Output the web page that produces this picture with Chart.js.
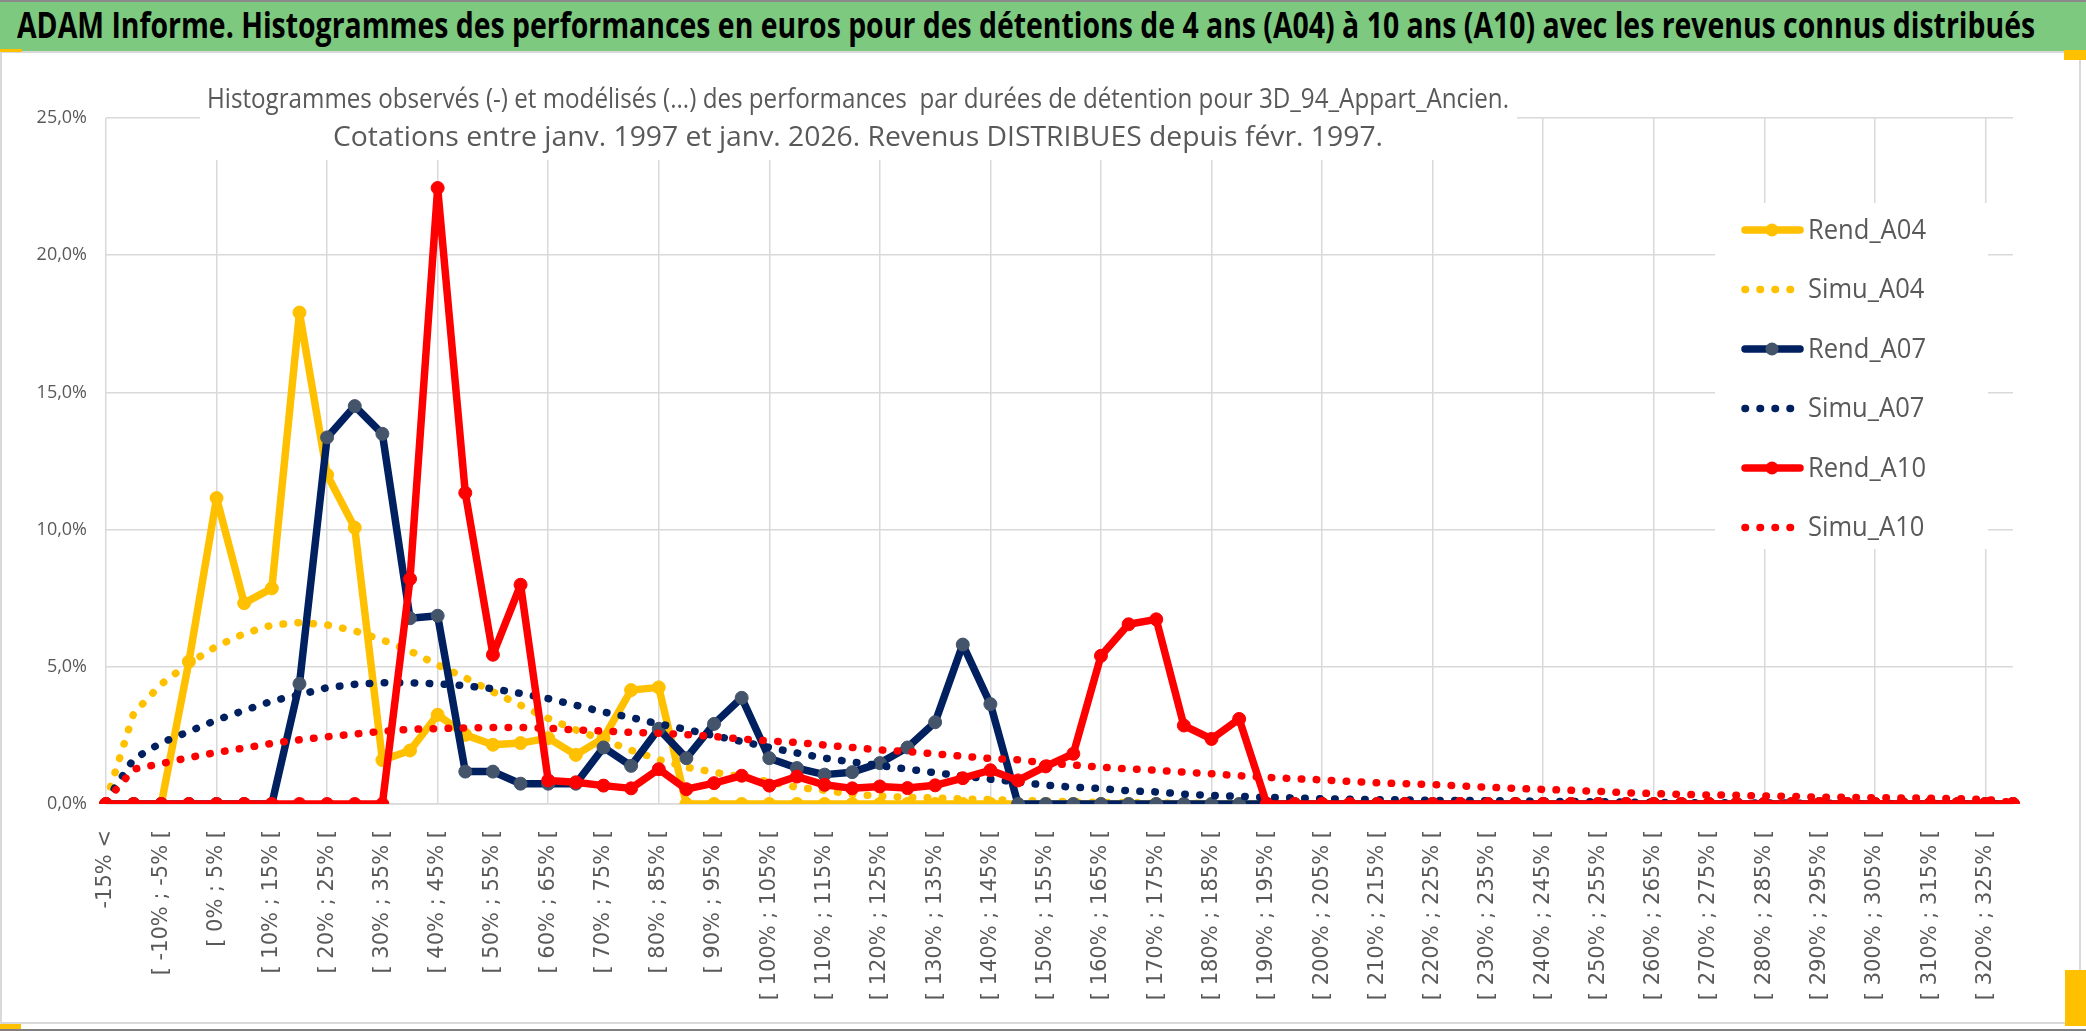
<!DOCTYPE html>
<html lang="fr">
<head>
<meta charset="utf-8">
<title>ADAM Informe - Histogrammes des performances</title>
<script src="https://cdn.jsdelivr.net/npm/chart.js@4.4.1/dist/chart.umd.min.js"></script>
<style>
  html, body { margin: 0; padding: 0; background: #fff; }
  body { width: 2086px; height: 1031px; position: relative; overflow: hidden; }
  #entete { position: absolute; left: 0; top: 0; width: 2086px; height: 49px; background: #7DC97F; border-top: 2px solid #8a8a8a; z-index: 3; }
  #entete span { position: absolute; left: 17px; top: -2px; line-height: 49px; font: bold 36px 'Open Sans', sans-serif; color: #000; white-space: nowrap; transform-origin: 0 50%; }
  #cadre { position: absolute; left: 0; top: 51px; width: 2077px; height: 969px; border: 2px solid #D9D9D9; }
  #bas { position: absolute; left: 0; top: 1029px; width: 2086px; height: 2px; background: #7F7F7F; }
  #graphique { position: absolute; left: 0; top: 0; z-index: 2; }
  .poignee { position: absolute; background: #FFC000; z-index: 4; }
</style>
</head>
<body>
<div id="entete"><span>ADAM Informe. Histogrammes des performances en euros pour des détentions de 4 ans (A04) à 10 ans (A10) avec les revenus connus distribués</span></div>
<div id="cadre"></div>
<div id="bas"></div>
<div class="poignee" style="left:0;top:49px;width:22px;height:3px"></div>
<div class="poignee" style="left:0;top:1024px;width:21px;height:5px"></div>
<div class="poignee" style="left:2064px;top:50px;width:22px;height:10px"></div>
<div class="poignee" style="left:2065px;top:970px;width:21px;height:56px"></div>
<canvas id="graphique" width="2086" height="1031"></canvas>
<script>
// Classes de performance (axe des x)
const categories = [
  '-15% <', '[ -15% ; -10% [', '[ -10% ; -5% [', '[ -5% ; 0% [',
  '[ 0% ; 5% [', '[ 5% ; 10% [', '[ 10% ; 15% [', '[ 15% ; 20% [', '[ 20% ; 25% [', '[ 25% ; 30% [',
  '[ 30% ; 35% [', '[ 35% ; 40% [', '[ 40% ; 45% [', '[ 45% ; 50% [', '[ 50% ; 55% [', '[ 55% ; 60% [',
  '[ 60% ; 65% [', '[ 65% ; 70% [', '[ 70% ; 75% [', '[ 75% ; 80% [', '[ 80% ; 85% [', '[ 85% ; 90% [',
  '[ 90% ; 95% [', '[ 95% ; 100% [', '[ 100% ; 105% [', '[ 105% ; 110% [', '[ 110% ; 115% [', '[ 115% ; 120% [',
  '[ 120% ; 125% [', '[ 125% ; 130% [', '[ 130% ; 135% [', '[ 135% ; 140% [', '[ 140% ; 145% [', '[ 145% ; 150% [',
  '[ 150% ; 155% [', '[ 155% ; 160% [', '[ 160% ; 165% [', '[ 165% ; 170% [', '[ 170% ; 175% [', '[ 175% ; 180% [',
  '[ 180% ; 185% [', '[ 185% ; 190% [', '[ 190% ; 195% [', '[ 195% ; 200% [', '[ 200% ; 205% [', '[ 205% ; 210% [',
  '[ 210% ; 215% [', '[ 215% ; 220% [', '[ 220% ; 225% [', '[ 225% ; 230% [', '[ 230% ; 235% [', '[ 235% ; 240% [',
  '[ 240% ; 245% [', '[ 245% ; 250% [', '[ 250% ; 255% [', '[ 255% ; 260% [', '[ 260% ; 265% [', '[ 265% ; 270% [',
  '[ 270% ; 275% [', '[ 275% ; 280% [', '[ 280% ; 285% [', '[ 285% ; 290% [', '[ 290% ; 295% [', '[ 295% ; 300% [',
  '[ 300% ; 305% [', '[ 305% ; 310% [', '[ 310% ; 315% [', '[ 315% ; 320% [', '[ 320% ; 325% [', '325% >'
];

// Graduations de l'axe des y (en %)
const graduationsY = [0, 5, 10, 15, 20, 25];

// Histogrammes observés (%)
const rendA04 = [
  0, 0, 0, 5.19, 11.15, 7.32, 7.86, 17.91, 12.0, 10.07,
  1.6, 1.95, 3.25, 2.52, 2.16, 2.22, 2.4, 1.79, 2.4, 4.15,
  4.25, 0, 0, 0, 0, 0, 0, 0, 0, 0,
  0, 0, 0, 0, 0, 0, 0, 0, 0, 0,
  0, 0, 0, 0, 0, 0, 0, 0, 0, 0,
  0, 0, 0, 0, 0, 0, 0, 0, 0, 0,
  0, 0, 0, 0, 0, 0, 0, 0, 0, 0
];
const rendA07 = [
  0, 0, 0, 0, 0, 0, 0, 4.38, 13.36, 14.5,
  13.49, 6.77, 6.86, 1.18, 1.18, 0.74, 0.74, 0.74, 2.06, 1.39,
  2.74, 1.67, 2.92, 3.87, 1.67, 1.31, 1.07, 1.16, 1.49, 2.06,
  2.98, 5.81, 3.64, 0, 0, 0, 0, 0, 0, 0,
  0, 0, 0, 0, 0, 0, 0, 0, 0, 0,
  0, 0, 0, 0, 0, 0, 0, 0, 0, 0,
  0, 0, 0, 0, 0, 0, 0, 0, 0, 0
];
const rendA10 = [
  0, 0, 0, 0, 0, 0, 0, 0, 0, 0,
  0, 8.2, 22.45, 11.34, 5.44, 7.99, 0.86, 0.79, 0.67, 0.57,
  1.27, 0.54, 0.76, 1.03, 0.67, 1.0, 0.7, 0.57, 0.64, 0.58,
  0.68, 0.94, 1.23, 0.86, 1.37, 1.83, 5.4, 6.55, 6.73, 2.86,
  2.37, 3.1, 0, 0, 0, 0, 0, 0, 0, 0,
  0, 0, 0, 0, 0, 0, 0, 0, 0, 0,
  0, 0, 0, 0, 0, 0, 0, 0, 0, 0
];

// Histogrammes modélisés (%)
const simuA04 = [
  0.1, 3.3, 4.37, 5.12, 5.75, 6.21, 6.52, 6.61, 6.53, 6.31,
  5.98, 5.58, 5.07, 4.6, 4.09, 3.6, 3.12, 2.7, 2.34, 1.96,
  1.62, 1.34, 1.16, 0.99, 0.81, 0.61, 0.5, 0.36, 0.29, 0.24,
  0.22, 0.18, 0.16, 0.13, 0.1, 0.08, 0.06, 0.05, 0.04, 0.03,
  0.02, 0.02, 0.01, 0, 0, 0, 0, 0, 0, 0,
  0, 0, 0, 0, 0, 0, 0, 0, 0, 0,
  0, 0, 0, 0, 0, 0, 0, 0, 0, 0
];
const simuA07 = [
  0.1, 1.64, 2.23, 2.64, 3.06, 3.41, 3.75, 3.98, 4.24, 4.36,
  4.42, 4.42, 4.38, 4.31, 4.2, 4.03, 3.84, 3.6, 3.35, 3.15,
  2.92, 2.72, 2.49, 2.28, 2.06, 1.86, 1.67, 1.53, 1.4, 1.27,
  1.14, 1.02, 0.9, 0.8, 0.69, 0.61, 0.56, 0.48, 0.44, 0.36,
  0.31, 0.28, 0.24, 0.22, 0.19, 0.17, 0.16, 0.15, 0.13, 0.13,
  0.12, 0.11, 0.1, 0.09, 0.08, 0.07, 0.06, 0.05, 0.05, 0.04,
  0.04, 0.03, 0.03, 0.02, 0.02, 0.02, 0.01, 0.01, 0.01, 0
];
const simuA10 = [
  0.1, 1.27, 1.47, 1.69, 1.88, 2.04, 2.21, 2.34, 2.45, 2.55,
  2.65, 2.72, 2.75, 2.77, 2.79, 2.79, 2.76, 2.7, 2.66, 2.61,
  2.58, 2.53, 2.46, 2.37, 2.3, 2.24, 2.15, 2.06, 1.97, 1.91,
  1.83, 1.74, 1.66, 1.61, 1.49, 1.42, 1.34, 1.28, 1.23, 1.16,
  1.1, 1.03, 0.97, 0.92, 0.88, 0.82, 0.77, 0.74, 0.71, 0.66,
  0.61, 0.57, 0.53, 0.5, 0.46, 0.41, 0.38, 0.35, 0.33, 0.32,
  0.29, 0.28, 0.25, 0.24, 0.23, 0.22, 0.21, 0.19, 0.17, 0.05
];

const sousTitre = [
  'Histogrammes observés (-) et modélisés (...) des performances  par durées de détention pour 3D_94_Appart_Ancien.',
  'Cotations entre janv. 1997 et janv. 2026. Revenus DISTRIBUES depuis févr. 1997.'
];

const GRIS_GRILLE = '#D9D9D9';
const GRIS_TEXTE = '#595959';
const POLICE = "'Open Sans', sans-serif";

// Titre d'en-tête : police plus large que Calibri, on la resserre
const titre = document.querySelector('#entete span');
titre.style.transform = 'scaleX(' + (2018 / titre.offsetWidth) + ')';

/**
 * Série observée : trait plein avec marqueurs
 */
function serieRend(label, data, couleur, couleurPoint, ordre) {
    return {
        label: label,
        data: data,
        borderColor: couleur,
        backgroundColor: couleur,
        borderWidth: 7.5,
        borderJoinStyle: 'round',
        borderCapStyle: 'round',
        pointRadius: 6.5,
        pointHoverRadius: 6.5,
        pointBackgroundColor: couleurPoint,
        pointBorderColor: couleurPoint,
        pointBorderWidth: 1,
        tension: 0,
        fill: false,
        order: ordre
    };
}

/**
 * Série modélisée : pointillés ronds, sans marqueur
 */
function serieSimu(label, data, couleur, ordre) {
    return {
        label: label,
        data: data,
        borderColor: couleur,
        backgroundColor: couleur,
        borderWidth: 7.5,
        borderDash: [0.5, 14.5],
        borderCapStyle: 'round',
        pointRadius: 0,
        pointHoverRadius: 0,
        tension: 0,
        fill: false,
        order: ordre
    };
}

// Texte resserré horizontalement pour tenir une largeur donnée
function texteLargeur(ctx, texte, x, y, largeur, align) {
    const k = largeur / ctx.measureText(texte).width;
    ctx.save();
    ctx.translate(x, y);
    ctx.scale(k, 1);
    ctx.textAlign = align;
    ctx.fillText(texte, 0, 0);
    ctx.restore();
}

// Sous-titre et légende posés sur la zone de tracé, sur fond blanc
const habillage = {
    id: 'habillage',
    beforeDatasetsDraw(chart) {
        const ctx = chart.ctx;
        ctx.save();
        ctx.fillStyle = '#fff';
        ctx.fillRect(200, 60, 1317, 100);
        ctx.fillRect(1715, 203, 273, 346);

        ctx.fillStyle = GRIS_TEXTE;
        ctx.textBaseline = 'alphabetic';
        ctx.font = '27px ' + POLICE;
        texteLargeur(ctx, sousTitre[0], 858, 108, 1302, 'center');
        texteLargeur(ctx, sousTitre[1], 858, 146, 1050, 'center');
        ctx.restore();
    },
    afterDatasetsDraw(chart) {
        const ctx = chart.ctx;
        ctx.save();
        ctx.font = '27px ' + POLICE;
        const k = 118 / ctx.measureText('Rend_A04').width;
        chart.data.datasets.forEach((ds, i) => {
            const y = 230 + i * 59.5;
            ctx.save();
            ctx.strokeStyle = ds.borderColor;
            ctx.lineWidth = ds.borderWidth;
            ctx.lineCap = 'round';
            ctx.setLineDash(ds.borderDash || []);
            ctx.beginPath();
            ctx.moveTo(1745, y);
            ctx.lineTo(ds.borderDash ? 1795 : 1800, y);
            ctx.stroke();
            if (ds.pointRadius) {
                ctx.setLineDash([]);
                ctx.fillStyle = ds.pointBackgroundColor;
                ctx.beginPath();
                ctx.arc(1772, y, ds.pointRadius, 0, Math.PI * 2);
                ctx.fill();
            }
            ctx.restore();
            ctx.fillStyle = GRIS_TEXTE;
            ctx.textBaseline = 'middle';
            ctx.save();
            ctx.translate(1808, y + 1);
            ctx.scale(k, 1);
            ctx.fillText(ds.label, 0, 0);
            ctx.restore();
        });
        ctx.restore();
    }
};

new Chart(document.getElementById('graphique'), {
    type: 'line',
    data: {
        labels: categories,
        datasets: [
            serieRend('Rend_A04', rendA04, '#FFC000', '#FFC000', 6),
            serieSimu('Simu_A04', simuA04, '#FFC000', 5),
            serieRend('Rend_A07', rendA07, '#002060', '#44546A', 4),
            serieSimu('Simu_A07', simuA07, '#002060', 3),
            serieRend('Rend_A10', rendA10, '#FF0000', '#FF0000', 2),
            serieSimu('Simu_A10', simuA10, '#FF0000', 1)
        ]
    },
    options: {
        responsive: false,
        animation: false,
        devicePixelRatio: 1,
        layout: { padding: { top: 118, right: 73, bottom: 0, left: 0 } },
        plugins: {
            legend: { display: false },
            title: { display: false },
            tooltip: { enabled: false }
        },
        scales: {
            x: {
                offset: false,
                grid: {
                    color: c => (c.index % 4 === 0 ? GRIS_GRILLE : 'rgba(0,0,0,0)'),
                    lineWidth: 1.5,
                    drawTicks: false
                },
                border: { color: GRIS_GRILLE, width: 1.5 },
                ticks: {
                    autoSkip: false,
                    minRotation: 90,
                    maxRotation: 90,
                    padding: 26,
                    color: GRIS_TEXTE,
                    font: { family: "'DejaVu Sans', sans-serif", size: 21 },
                    callback: function (v, i) {
                        return i % 2 === 0 ? this.getLabelForValue(v) : '';
                    }
                },
                afterFit: s => { s.height = 1031 - 804; }
            },
            y: {
                min: 0,
                max: 25,
                afterBuildTicks: s => { s.ticks = graduationsY.map(v => ({ value: v })); },
                grid: { color: GRIS_GRILLE, lineWidth: 1.5, drawTicks: false },
                border: { display: false },
                ticks: {
                    padding: 19,
                    color: GRIS_TEXTE,
                    font: { family: POLICE, size: 18 },
                    callback: v => v.toFixed(1).replace('.', ',') + '%'
                },
                afterFit: s => { s.width = 106; }
            }
        }
    },
    plugins: [habillage]
});
</script>
</body>
</html>
